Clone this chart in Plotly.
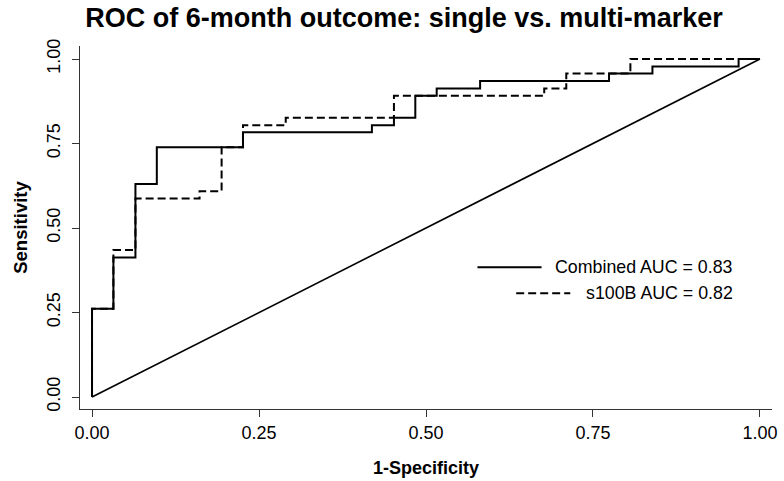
import plotly.graph_objects as go

# ROC step vertices (1-specificity, sensitivity)
combined_fpr = [0.0, 0.0, 0.032, 0.065, 0.097, 0.226, 0.419, 0.452, 0.484, 0.516, 0.581, 0.774, 0.839, 0.968, 1.0]
combined_tpr = [0.0, 0.261, 0.413, 0.630, 0.739, 0.783, 0.804, 0.826, 0.891, 0.913, 0.935, 0.957, 0.978, 1.0, 1.0]

s100b_fpr = [0.0, 0.0, 0.032, 0.065, 0.161, 0.194, 0.226, 0.290, 0.452, 0.677, 0.710, 0.806, 1.0]
s100b_tpr = [0.0, 0.261, 0.435, 0.587, 0.609, 0.739, 0.804, 0.826, 0.891, 0.913, 0.957, 1.0, 1.0]

chance_x = [0.0, 1.0]
chance_y = [0.0, 1.0]

tick_vals = [0.0, 0.25, 0.5, 0.75, 1.0]
tick_text = ["0.00", "0.25", "0.50", "0.75", "1.00"]

legend_labels = ["Combined AUC = 0.83", "s100B AUC = 0.82"]
title_text = "ROC of 6-month outcome: single vs. multi-marker"
x_title = "1-Specificity"
y_title = "Sensitivity"

FONT = "Liberation Sans, Arial, Helvetica, sans-serif"
W, H = 784, 481

fig = go.Figure()
fig.add_trace(go.Scatter(x=chance_x, y=chance_y, mode="lines",
                         line=dict(color="black", width=1.6), showlegend=False))
fig.add_trace(go.Scatter(x=s100b_fpr, y=s100b_tpr, mode="lines", line_shape="hv",
                         line=dict(color="black", width=2, dash="8px,4px"),
                         name=legend_labels[1], showlegend=False))
fig.add_trace(go.Scatter(x=combined_fpr, y=combined_tpr, mode="lines", line_shape="hv",
                         line=dict(color="black", width=2),
                         name=legend_labels[0], showlegend=False))

# manual legend (right-aligned text as in the reference)
fig.add_shape(type="line", x0=0.577, x1=0.673, y0=0.384, y1=0.384,
              line=dict(color="black", width=2))
fig.add_shape(type="line", x0=0.635, x1=0.716, y0=0.307, y1=0.307,
              line=dict(color="black", width=2, dash="8px,4px"))
fig.add_annotation(x=0.9626, y=0.386, text=legend_labels[0], showarrow=False,
                   xanchor="right", yanchor="middle",
                   font=dict(family=FONT, size=17.8, color="black"))
fig.add_annotation(x=0.9626, y=0.309, text=legend_labels[1], showarrow=False,
                   xanchor="right", yanchor="middle",
                   font=dict(family=FONT, size=17.8, color="black"))

fig.update_layout(
    width=W, height=H,
    margin=dict(l=80, r=12, t=46, b=72),
    paper_bgcolor="white", plot_bgcolor="white",
    font=dict(family=FONT, color="black"),
    title=dict(text="<b>" + title_text + "</b>", x=404 / W, xanchor="center",
               y=1 - 18 / H, yanchor="middle", automargin=False,
               font=dict(family=FONT, size=27, color="black")),
    xaxis=dict(range=[-0.018, 1.018], tickvals=tick_vals, ticktext=tick_text,
               automargin=False,
               showgrid=False, zeroline=False, showline=True, linecolor="#333",
               linewidth=1.2, ticks="outside", ticklen=7, tickcolor="#333",
               tickfont=dict(size=18, family=FONT, color="black"),
               title=dict(text="<b>" + x_title + "</b>", standoff=19,
                          font=dict(size=18, family=FONT, color="black"))),
    yaxis=dict(range=[-0.0355, 1.0385], tickvals=tick_vals, ticktext=tick_text,
               automargin=False, ticklabelstandoff=5,
               showgrid=False, zeroline=False, showline=True, linecolor="#333",
               linewidth=1.2, ticks="outside", ticklen=7, tickcolor="#333",
               tickangle=-90,
               tickfont=dict(size=18, family=FONT, color="black"),
               title=dict(text="<b>" + y_title + "</b>", standoff=11,
                          font=dict(size=18.5, family=FONT, color="black"))),
)

fig.write_html("out.html", config={"displayModeBar": False},
               post_script="document.body.style.margin='0';")
